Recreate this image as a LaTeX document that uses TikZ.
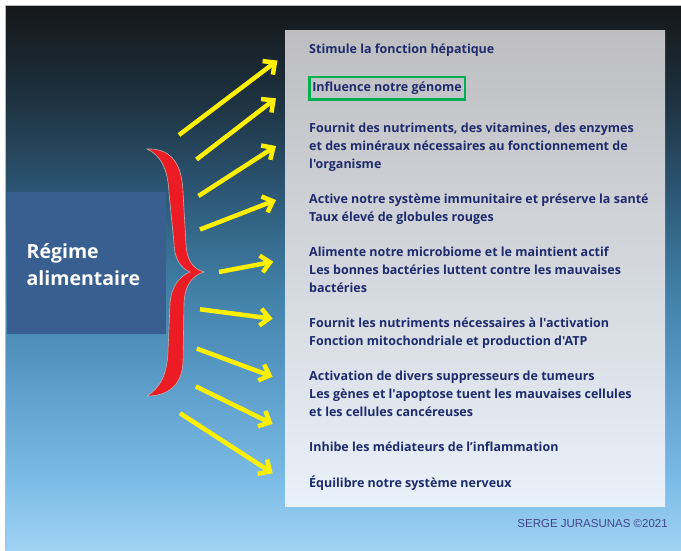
\documentclass[tikz,border=0pt]{standalone}
\usepackage{fontspec}
\newfontfamily\itemfont{Open Sans}[Ligatures=TeXOff]
\newfontfamily\creditfont{Liberation Sans}
\usetikzlibrary{arrows.meta}

\definecolor{sky0}{RGB}{21,23,25}
\definecolor{sky1}{RGB}{29,50,64}
\definecolor{sky2}{RGB}{44,86,116}
\definecolor{sky3}{RGB}{62,124,162}
\definecolor{sky4}{RGB}{90,155,200}
\definecolor{sky5}{RGB}{123,188,230}
\definecolor{sky6}{RGB}{160,210,244}
\definecolor{paneltop}{RGB}{190,190,193}
\definecolor{panelbot}{RGB}{233,241,250}
\definecolor{dietblue}{RGB}{56,95,143}
\definecolor{bracered}{RGB}{236,28,36}
\definecolor{arrowyellow}{RGB}{255,240,0}
\definecolor{itemnavy}{RGB}{30,43,108}
\definecolor{genomegreen}{RGB}{0,176,80}
\definecolor{creditblue}{RGB}{68,68,140}

\pgfdeclareverticalshading{skyfade}{100bp}{color(0bp)=(sky6); color(25bp)=(sky6);
  color(31.4bp)=(sky5); color(40.6bp)=(sky4); color(49.8bp)=(sky3);
  color(58bp)=(sky2); color(66.3bp)=(sky1); color(75bp)=(sky0); color(100bp)=(sky0)}

\begin{document}
\begin{tikzpicture}[x=1pt,y=-1pt,
  item/.style={font=\itemfont\bfseries\fontsize{12.5}{18}\selectfont, text=itemnavy,
    align=left, anchor=base west},
  genbox/.style={font=\itemfont\bfseries\fontsize{12.5}{18}\selectfont, text=itemnavy,
    draw=genomegreen, line width=2.5pt, minimum width=155.5pt, minimum height=22.5pt},
  diet/.style={font=\itemfont\bfseries\fontsize{19.5}{27.6}\selectfont, text=white,
    align=left, anchor=base west},
  credit/.style={font=\creditfont\fontsize{11.5}{13}\selectfont, text=creditblue, anchor=base east},
  yarrow/.style={draw=arrowyellow, line width=4.5pt, -{Straight Barb[length=9pt,width=17pt]},
    preaction={draw=black, draw opacity=.6, transform canvas={shift={(1.4pt,-1.4pt)}}}}]
\tikzstyle{every node}+=[inner sep=0pt]
\useasboundingbox (0,0) rectangle (681,550);
% backdrop
\fill [white] (0,0) rectangle (681,550);
\shade [shading=skyfade] (5,5) rectangle (681,550);
\draw [gray!55, line width=0.8pt] (5,550) -- (5,5) -- (681,5);
% panel and diet box
\shade [top color=paneltop, bottom color=panelbot] (285,30) rectangle (665,506);
\fill [dietblue] (7,192) rectangle (166,334);
% multi-line nodes sit on the baseline of their last line
\node [diet] (diet) at (26.5,285.7) {Régime\\alimentaire};
% brace
\filldraw [fill=bracered, draw=gray!60, line width=0.6pt]
  (147,149) .. controls (168,148) and (182,160) .. (183,192)
  -- (186,244) .. controls (187,262) and (194,269) .. (204,272)
  .. controls (194,275) and (185,283) .. (184,303)
  -- (183,362) .. controls (182,387) and (166,396) .. (147,396)
  .. controls (160,388) and (167,375) .. (168,352)
  -- (170,304) .. controls (171,286) and (180,276) .. (190,272)
  .. controls (180,268) and (174,257) .. (174,243)
  -- (169,193) .. controls (168,168) and (160,155) .. cycle;
% list
\node [item] (liver) at (309,53.2) {Stimule la fonction hépatique};
\node [genbox] (genome) at (387,88) {Influence notre génome};
\node [item] (nutrients) at (309,168.6) {Fournit des nutriments, des vitamines, des enzymes\\et des minéraux nécessaires au fonctionnement de\\l'organisme};
\node [item] (immune) at (309,221.5) {Active notre système immunitaire et préserve la santé\\Taux élevé de globules rouges};
\node [item] (microbiome) at (309,292.5) {Alimente notre microbiome et le maintient actif\\Les bonnes bactéries luttent contre les mauvaises\\bactéries};
\node [item] (mito) at (309,345.2) {Fournit les nutriments nécessaires à l'activation\\Fonction mitochondriale et production d'ATP};
\node [item] (tumour) at (309,416.7) {Activation de divers suppresseurs de tumeurs\\Les gènes et l'apoptose tuent les mauvaises cellules\\et les cellules cancéreuses};
\node [item] (inflam) at (309,451.9) {Inhibe les médiateurs de l’inflammation};
\node [item] (nerves) at (309,487.7) {Équilibre notre système nerveux};
\node [credit] (credit) at (668,527) {SERGE JURASUNAS ©2021};
% arrows
\coordinate (a1) at (179,135);   \coordinate (b1) at (277.5,60.5);
\coordinate (a2) at (196.5,159.5); \coordinate (b2) at (276,98.3);
\coordinate (a3) at (198.5,196); \coordinate (b3) at (276,146);
\coordinate (a4) at (200,229.5); \coordinate (b4) at (276,200);
\coordinate (a5) at (219,272);   \coordinate (b5) at (273.3,261.7);
\coordinate (a6) at (200,309.3); \coordinate (b6) at (272.7,318.7);
\coordinate (a7) at (196.8,348.6); \coordinate (b7) at (272.7,376.7);
\coordinate (a8) at (195.8,386.4); \coordinate (b8) at (272.7,424);
\coordinate (a9) at (180,413.2); \coordinate (b9) at (272.7,473.3);
\draw [yarrow] (a1) -- (b1);
\draw [yarrow] (a2) -- (b2);
\draw [yarrow] (a3) -- (b3);
\draw [yarrow] (a4) -- (b4);
\draw [yarrow] (a5) -- (b5);
\draw [yarrow] (a6) -- (b6);
\draw [yarrow] (a7) -- (b7);
\draw [yarrow] (a8) -- (b8);
\draw [yarrow] (a9) -- (b9);
\end{tikzpicture}
\end{document}
